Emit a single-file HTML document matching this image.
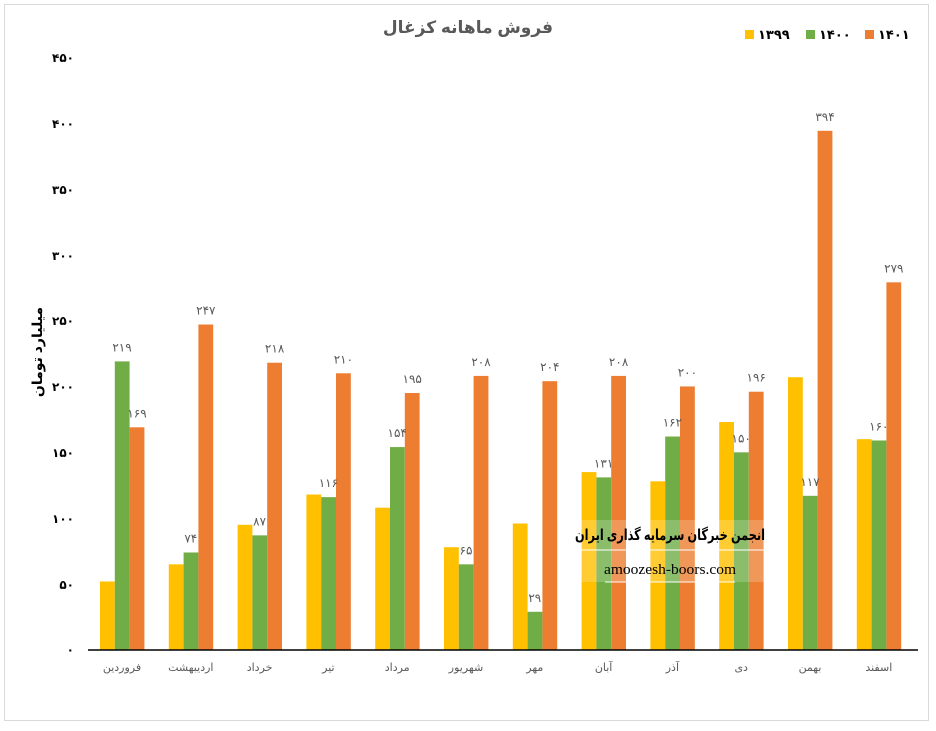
<!DOCTYPE html>
<html><head><meta charset="utf-8"><style>
body{margin:0;background:#fff;width:936px;height:726px;overflow:hidden}
svg text{font-family:"Liberation Sans","DejaVu Sans",sans-serif}
</style></head><body>
<svg width="936" height="726" viewBox="0 0 936 726" xmlns="http://www.w3.org/2000/svg">
<rect x="4.5" y="4.5" width="924" height="716" fill="#fff" stroke="#d9d9d9"/>
<text x="468" y="33" text-anchor="middle" font-size="17" font-weight="bold" fill="#595959">فروش ماهانه کزغال</text>
<g font-size="13" font-weight="bold" fill="#000">
<rect x="745" y="30" width="9" height="9" fill="#ffc000"/><text x="758" y="39">۱۳۹۹</text>
<rect x="806" y="30" width="9" height="9" fill="#70ad47"/><text x="819" y="39">۱۴۰۰</text>
<rect x="865" y="30" width="9" height="9" fill="#ed7d31"/><text x="878" y="39">۱۴۰۱</text>
</g>
<g font-size="12" font-weight="bold" fill="#000" text-anchor="end">
<text x="74" y="62">۴۵۰</text><text x="74" y="128">۴۰۰</text><text x="74" y="194">۳۵۰</text>
<text x="74" y="260">۳۰۰</text><text x="74" y="325">۲۵۰</text><text x="74" y="391">۲۰۰</text>
<text x="74" y="457">۱۵۰</text><text x="74" y="523">۱۰۰</text><text x="74" y="589">۵۰</text><text x="74" y="654">۰</text>
</g>
<text transform="translate(42,352) rotate(-90)" text-anchor="middle" font-size="14" font-weight="bold" fill="#000">میلیارد تومان</text>
<g id="bars"></g>
<line x1="88" y1="650" x2="918" y2="650" stroke="#000" stroke-width="1.5"/>
<g font-size="11" fill="#595959" text-anchor="middle" id="cats"></g>
<g font-size="12" fill="#595959" text-anchor="middle" id="lbls"></g>
<rect x="570" y="520" width="200" height="62" fill="#fff" fill-opacity="0.2"/>
<line x1="570" y1="550" x2="770" y2="550" stroke="#fff" stroke-width="1"/>
<line x1="605" y1="582" x2="735" y2="582" stroke="#fff" stroke-width="1"/>
<text x="670" y="540" text-anchor="middle" font-size="15" font-weight="bold" fill="#000" textLength="190" lengthAdjust="spacingAndGlyphs" font-family="DejaVu Sans,sans-serif">انجمن خبرگان سرمایه گذاری ایران</text>
<text x="670" y="574" text-anchor="middle" font-size="15" fill="#000" textLength="132" lengthAdjust="spacingAndGlyphs" style="font-family:'Liberation Serif',serif">amoozesh-boors.com</text>
</svg>
<script>
const y1=[52,65,95,118,108,78,96,135,128,173,207,160];
const y2=[219,74,87,116,154,65,29,131,162,150,117,159];
const y3=[169,247,218,210,195,208,204,208,200,196,394,279];
const cats=["فروردین","اردیبهشت","خرداد","تیر","مرداد","شهریور","مهر","آبان","آذر","دی","بهمن","اسفند"];
const lab2=["۲۱۹","۷۴","۸۷","۱۱۶","۱۵۴","۶۵","۲۹","۱۳۱","۱۶۲","۱۵۰","۱۱۷","۱۶۰"];
const lab3=["۱۶۹","۲۴۷","۲۱۸","۲۱۰","۱۹۵","۲۰۸","۲۰۴","۲۰۸","۲۰۰","۱۹۶","۳۹۴","۲۷۹"];
const k=(650-57)/450,NS="http://www.w3.org/2000/svg";
const B=document.getElementById('bars'),C=document.getElementById('cats'),L=document.getElementById('lbls');
function r(x,v,c){const e=document.createElementNS(NS,'rect');e.setAttribute('x',x);e.setAttribute('y',650-v*k);e.setAttribute('width',14.8);e.setAttribute('height',v*k);e.setAttribute('fill',c);B.appendChild(e);}
function t(p,x,y,s){const e=document.createElementNS(NS,'text');e.setAttribute('x',x);e.setAttribute('y',y);e.textContent=s;p.appendChild(e);}
for(let i=0;i<12;i++){const x=100+i*68.8;
r(x,y1[i],'#ffc000');r(x+14.8,y2[i],'#70ad47');r(x+29.6,y3[i],'#ed7d31');
t(C,x+22,671,cats[i]);
t(L,x+22,650-y2[i]*k-10,lab2[i]);t(L,x+37,650-y3[i]*k-10,lab3[i]);}
</script>
</body></html>
